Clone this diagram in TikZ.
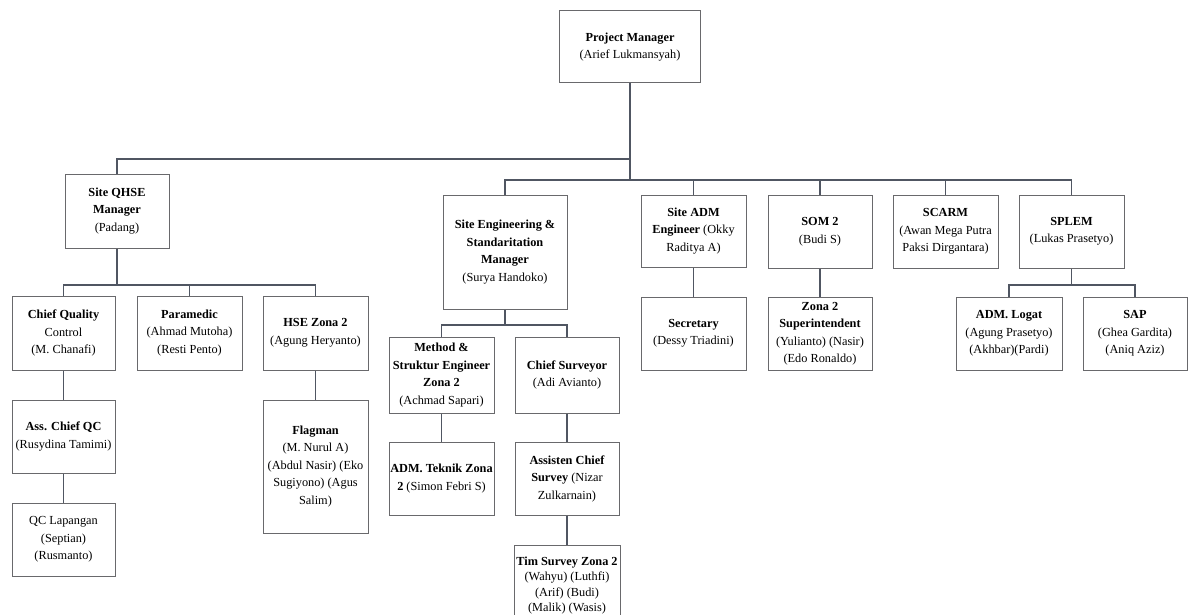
\documentclass[tikz,border=0pt]{standalone}
\usepackage{fontspec}
\setmainfont{Liberation Serif}
\usepackage{xcolor}
\definecolor{boxgray}{RGB}{105,105,108}
\definecolor{linegray}{RGB}{80,86,98}

\begin{document}
\begin{tikzpicture}[x=1pt, y=-1pt,
    box/.style={draw=boxgray, line width=1pt, fill=white, align=center, inner sep=1pt,
        font=\fontsize{12.3}{17.5}\selectfont},
    link/.style={draw=linegray, line width=1.3pt}]
        \useasboundingbox (0,0) rectangle (1188,615);

        % Top
        \node[box, minimum width=141, minimum height=72] (pm) at (630,47) {\textbf{Project Manager}\\(Arief Lukmansyah)};

        % QHSE branch
        \node[box, minimum width=104, minimum height=74] (qhse) at (117,211) {\textbf{Site QHSE}\\\textbf{Manager}\\(Padang)};
        \node[box, minimum width=103, minimum height=74] (cqc) at (63.5,333) {\textbf{Chief Quality}\\Control\\(M. Chanafi)};
        \node[box, minimum width=105, minimum height=74] (para) at (189.5,333) {\textbf{Paramedic}\\(Ahmad Mutoha)\\(Resti Pento)};
        \node[box, minimum width=105, minimum height=74] (hse) at (315.5,333) {\textbf{HSE Zona 2}\\(Agung Heryanto)};
        \node[box, minimum width=103, minimum height=73] (acqc) at (63.5,436.5) {\textbf{Ass. Chief QC}\\(Rusydina Tamimi)};
        \node[box, minimum width=103, minimum height=73] (qcl) at (63.5,539.5) {QC Lapangan\\(Septian)\\(Rusmanto)};
        \node[box, minimum width=105, minimum height=133] (flag) at (315.5,466.5) {\textbf{Flagman}\\(M. Nurul A)\\(Abdul Nasir) (Eko\\Sugiyono) (Agus\\Salim)};

        % Engineering branch
        \node[box, minimum width=124, minimum height=114] (seng) at (505,252) {\textbf{Site Engineering \&}\\\textbf{Standaritation}\\\textbf{Manager}\\(Surya Handoko)};
        \node[box, minimum width=105, minimum height=76] (meth) at (441.5,375) {\textbf{Method \&}\\\textbf{Struktur Engineer}\\\textbf{Zona 2}\\(Achmad Sapari)};
        \node[box, minimum width=104, minimum height=76] (csurv) at (567,375) {\textbf{Chief Surveyor}\\(Adi Avianto)};
        \node[box, minimum width=105, minimum height=73] (admt) at (441.5,478.5) {\textbf{ADM. Teknik Zona}\\\textbf{2} (Simon Febri S)};
        \node[box, minimum width=104, minimum height=73] (acs) at (567,478.5) {\textbf{Assisten Chief}\\\textbf{Survey} (Nizar\\Zulkarnain)};
        \node[box, minimum width=106, minimum height=80, anchor=north, inner ysep=0.5pt,
            font=\fontsize{12.3}{15.5}\selectfont] (tims) at (567,545) {\textbf{Tim Survey Zona 2}\\(Wahyu) (Luthfi)\\(Arif) (Budi)\\(Malik) (Wasis)};

        % Right branches
        \node[box, minimum width=105, minimum height=72] (sadm) at (693.5,231) {\textbf{Site ADM}\\\textbf{Engineer} (Okky\\Raditya A)};
        \node[box, minimum width=105, minimum height=73] (secr) at (693.5,333.5) {\textbf{Secretary}\\(Dessy Triadini)};
        \node[box, minimum width=104, minimum height=73] (som) at (820,231.5) {\textbf{SOM 2}\\(Budi S)};
        \node[box, minimum width=104, minimum height=73] (zona) at (820,333.5) {\textbf{Zona 2}\\\textbf{Superintendent}\\(Yulianto) (Nasir)\\(Edo Ronaldo)};
        \node[box, minimum width=105, minimum height=73] (scarm) at (945.5,231.5) {\textbf{SCARM}\\(Awan Mega Putra\\Paksi Dirgantara)};
        \node[box, minimum width=105, minimum height=73] (splem) at (1071.5,231.5) {\textbf{SPLEM}\\(Lukas Prasetyo)};
        \node[box, minimum width=106, minimum height=73] (adml) at (1009,333.5) {\textbf{ADM. Logat}\\(Agung Prasetyo)\\(Akhbar)(Pardi)};
        \node[box, minimum width=104, minimum height=73] (sap) at (1135,333.5) {\textbf{SAP}\\(Ghea Gardita)\\(Aniq Aziz)};

        % Bus points
        \coordinate (busA) at (630,159);
        \coordinate (busB) at (630,180);
        \coordinate (qhseBus) at (117,285);
        \coordinate (sengBus) at (505,325);
        \coordinate (splemBus) at (1071.5,285);

        % Lines from the top
        \draw[link] (pm.south) -- (busB);
        \draw[link] (busA) -| (qhse.north);
        \draw[link] (busB) -| (seng.north);
        \draw[link] (busB) -| (splem.north);
        \draw[link] (sadm.north) -- (sadm.north |- busB);
        \draw[link] (som.north) -- (som.north |- busB);
        \draw[link] (scarm.north) -- (scarm.north |- busB);

        % QHSE lines
        \draw[link] (qhse.south) -- (qhseBus);
        \draw[link] (cqc.north) |- (qhseBus) -| (hse.north);
        \draw[link] (para.north) -- (para.north |- qhseBus);
        \draw[link] (cqc.south) -- (acqc.north);
        \draw[link] (acqc.south) -- (qcl.north);
        \draw[link] (hse.south) -- (flag.north);

        % Engineering lines
        \draw[link] (seng.south) -- (sengBus);
        \draw[link] (meth.north) |- (sengBus) -| (csurv.north);
        \draw[link] (meth.south) -- (admt.north);
        \draw[link] (csurv.south) -- (acs.north);
        \draw[link] (acs.south) -- (tims.north);

        % Right lines
        \draw[link] (sadm.south) -- (secr.north);
        \draw[link] (som.south) -- (zona.north);
        \draw[link] (splem.south) -- (splemBus);
        \draw[link] (adml.north) |- (splemBus) -| (sap.north);
    \end{tikzpicture}
\end{document}
